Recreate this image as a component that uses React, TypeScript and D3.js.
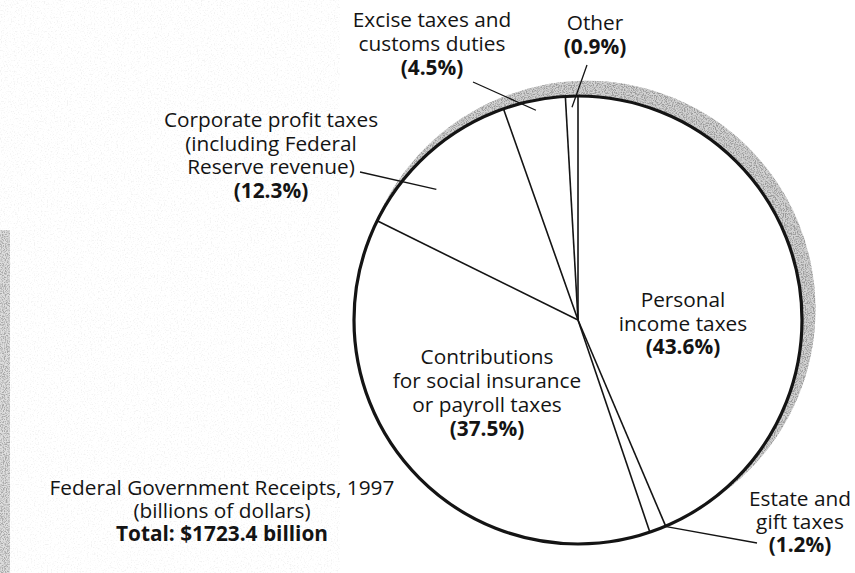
import * as d3 from "d3";

// Federal Government Receipts, 1997 (share of total, %)
const categories = [
  "Personal income taxes",
  "Estate and gift taxes",
  "Contributions for social insurance or payroll taxes",
  "Corporate profit taxes (including Federal Reserve revenue)",
  "Excise taxes and customs duties",
  "Other",
];
const shares = [43.6, 1.2, 37.5, 12.3, 4.5, 0.9];

const labelLines = [
  ["Personal", "income taxes"],
  ["Estate and", "gift taxes"],
  ["Contributions", "for social insurance", "or payroll taxes"],
  ["Corporate profit taxes", "(including Federal", "Reserve revenue)"],
  ["Excise taxes and", "customs duties"],
  ["Other"],
];

const titleLines = ["Federal Government Receipts, 1997", "(billions of dollars)"];
const totalLabel = "Total: $1723.4 billion";

const W = 855;
const H = 573;
const cx = 578;
const cy = 320;
const R = 224;

// label placement (center x, first baseline y, line step)
const labelPos: [number, number, number][] = [
  [683, 307, 23.5],
  [800, 506, 23],
  [487, 364, 24],
  [271, 127, 23.7],
  [432, 27, 24],
  [595, 30, 23.5],
];
// leader lines: label end point, fraction along the slice, radius fraction
const leaders: ({ from: [number, number]; t: number; k: number } | null)[] = [
  null,
  { from: [757, 543], t: 0.05, k: 1.0 },
  null,
  { from: [360, 172], t: 0.37, k: 0.86 },
  { from: [473, 82], t: 0.5, k: 0.955 },
  { from: [587, 65], t: 0.5, k: 0.95 },
];

const FONT = "'Open Sans', 'Noto Sans', sans-serif";
const INK = "#141414";
const FS = 20.8;

export default function App() {
  const pie = d3
    .pie<number>()
    .sort(null)
    .value((d) => d)
    .startAngle(0)
    .endAngle(2 * Math.PI);
  const arcs = pie(shares);

  const pt = (a: number, r: number): [number, number] => [
    cx + r * Math.sin(a),
    cy - r * Math.cos(a),
  ];

  return (
    <svg
      width={W}
      height={H}
      style={{ position: "absolute", left: 0, top: 0, background: "#fff" }}
      fontFamily={FONT}
    >
      <defs>
        <filter id="speckle" x="0" y="0" width="100%" height="100%">
          <feTurbulence type="fractalNoise" baseFrequency="0.9" numOctaves="2" seed="4" result="n" />
          <feColorMatrix
            in="n"
            type="matrix"
            values="0 0 0 0 0.3  0 0 0 0 0.3  0 0 0 0 0.3  -4 0 0 0 2.3"
            result="c"
          />
          <feComposite in="c" in2="SourceGraphic" operator="in" />
        </filter>
        <filter id="light" x="0" y="0" width="100%" height="100%">
          <feTurbulence type="fractalNoise" baseFrequency="0.7" numOctaves="2" seed="9" result="n" />
          <feColorMatrix
            in="n"
            type="matrix"
            values="0 0 0 0 0.4  0 0 0 0 0.4  0 0 0 0 0.4  -4 0 0 0 1.85"
            result="c"
          />
          <feComposite in="c" in2="SourceGraphic" operator="in" />
        </filter>
      </defs>

      {/* scanned page texture */}
      <rect x={0} y={0} width={340} height={H} fill="#000" opacity={0.15} filter="url(#light)" />
      <rect x={0} y={230} width={10} height={H - 230} fill="#d0d0d0" opacity={0.7} />
      <rect x={0} y={230} width={10} height={H - 230} fill="#000" opacity={0.7} filter="url(#speckle)" />

      {/* shadow */}
      <circle cx={cx + 9} cy={cy - 10.7} r={R + 4.5} fill="#d2d2d2" />
      <circle cx={cx + 9} cy={cy - 10.7} r={R + 4.5} fill="#000" opacity={0.9} filter="url(#speckle)" />

      {/* pie */}
      <circle cx={cx} cy={cy} r={R} fill="#fff" />
      {arcs.map((a, i) => {
        const [x, y] = pt(a.startAngle, R);
        return (
          <line key={"s" + i} x1={cx} y1={cy} x2={x} y2={y} stroke={INK} strokeWidth={1.6} />
        );
      })}
      <circle cx={cx} cy={cy} r={R} fill="none" stroke={INK} strokeWidth={3.2} />

      {/* leaders */}
      {arcs.map((a, i) => {
        const l = leaders[i];
        if (!l) return null;
        const ang = a.startAngle + l.t * (a.endAngle - a.startAngle);
        const [x, y] = pt(ang, R * l.k);
        return (
          <line
            key={"l" + i}
            x1={l.from[0]}
            y1={l.from[1]}
            x2={x}
            y2={y}
            stroke={INK}
            strokeWidth={1.3}
          />
        );
      })}

      {/* labels */}
      {categories.map((c, i) => {
        const [x, y, step] = labelPos[i];
        const lines = labelLines[i];
        return (
          <text key={c} x={x} textAnchor="middle" fontSize={FS} fill={INK}>
            {lines.map((s, j) => (
              <tspan key={j} x={x} y={y + j * step}>
                {s}
              </tspan>
            ))}
            <tspan x={x} y={y + lines.length * step} fontWeight={700}>
              {`(${d3.format(".1f")(shares[i])}%)`}
            </tspan>
          </text>
        );
      })}

      {/* title */}
      <text x={222} textAnchor="middle" fontSize={FS} fill={INK}>
        <tspan x={222} y={495}>{titleLines[0]}</tspan>
        <tspan x={222} y={518}>{titleLines[1]}</tspan>
        <tspan x={222} y={541} fontWeight={700}>{totalLabel}</tspan>
      </text>
    </svg>
  );
}
